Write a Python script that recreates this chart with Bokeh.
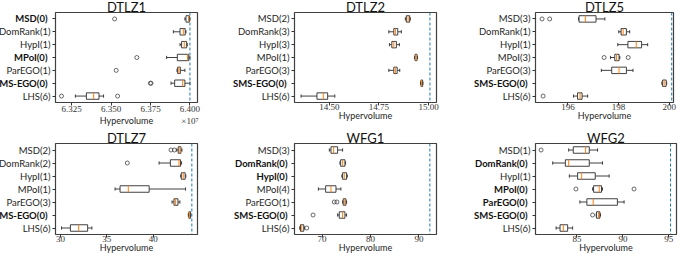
import glob
import math
from bokeh.plotting import figure
from bokeh.models import (FixedTicker, Span, Range1d, PrintfTickFormatter, ColumnDataSource,
                          LinearAxis, Title)
from bokeh.layouts import row, column
from bokeh.embed import file_html
from bokeh.resources import INLINE

METHODS = ["MSD", "DomRank", "HypI", "MPoI", "ParEGO", "SMS-EGO", "LHS"]

# ---------------- DTLZ1 (values x 1e7) ----------------
DTLZ1_COUNTS = [0, 1, 1, 0, 1, 0, 6]
DTLZ1_LO  = [6.3968, 6.3895, 6.3937, 6.3852, 6.3918, 6.3880, 6.3273]
DTLZ1_Q1  = [6.3975, 6.3937, 6.3947, 6.3920, 6.3922, 6.3903, 6.3343]
DTLZ1_MED = [6.3991, 6.3958, 6.3964, 6.3985, 6.3930, 6.3954, 6.3389]
DTLZ1_Q3  = [6.3996, 6.3970, 6.3979, 6.3992, 6.3939, 6.3968, 6.3423]
DTLZ1_HI  = [6.4000, 6.3975, 6.3983, 6.4000, 6.3968, 6.4000, 6.3452]
DTLZ1_OUT_M = [0, 3, 4, 5, 5, 6, 6]
DTLZ1_OUT_X = [6.3522, 6.3663, 6.3532, 6.3749, 6.3753, 6.3185, 6.3541]
DTLZ1_REF = 6.400
DTLZ1_XLIM = (6.3147, 6.4048)
DTLZ1_TICKS = [6.325, 6.350, 6.375, 6.400]
DTLZ1_SCALE = "×10⁷"

# ---------------- DTLZ2 ----------------
DTLZ2_COUNTS = [2, 3, 3, 1, 3, 0, 6]
DTLZ2_LO  = [14.883, 14.800, 14.803, 14.930, 14.800, 14.960, 14.358]
DTLZ2_Q1  = [14.888, 14.825, 14.815, 14.932, 14.825, 14.962, 14.438]
DTLZ2_MED = [14.897, 14.833, 14.825, 14.937, 14.833, 14.965, 14.470]
DTLZ2_Q3  = [14.905, 14.845, 14.838, 14.942, 14.842, 14.970, 14.492]
DTLZ2_HI  = [14.908, 14.863, 14.853, 14.944, 14.855, 14.972, 14.528]
DTLZ2_OUT_M = []
DTLZ2_OUT_X = []
DTLZ2_REF = 15.007
DTLZ2_XLIM = (14.325, 15.040)
DTLZ2_TICKS = [14.50, 14.75, 15.00]

# ---------------- DTLZ5 ----------------
DTLZ5_COUNTS = [3, 1, 1, 3, 3, 0, 6]
DTLZ5_LO  = [196.42, 198.01, 197.97, 197.68, 197.32, 199.71, 196.22]
DTLZ5_Q1  = [196.44, 198.10, 198.37, 197.85, 197.73, 199.74, 196.38]
DTLZ5_MED = [196.69, 198.18, 198.70, 197.92, 198.02, 199.80, 196.48]
DTLZ5_Q3  = [197.11, 198.31, 198.91, 198.02, 198.31, 199.88, 196.56]
DTLZ5_HI  = [197.46, 198.44, 199.15, 198.05, 198.57, 199.90, 196.78]
DTLZ5_OUT_M = [0, 0, 3, 3, 6]
DTLZ5_OUT_X = [194.98, 195.28, 197.43, 198.38, 195.02]
DTLZ5_REF = 200.10
DTLZ5_XLIM = (194.72, 200.17)
DTLZ5_TICKS = [196, 198, 200]

# ---------------- DTLZ7 ----------------
DTLZ7_COUNTS = [2, 2, 1, 1, 3, 0, 6]
DTLZ7_LO  = [42.54, 40.64, 42.98, 35.89, 42.04, 43.80, 30.11]
DTLZ7_Q1  = [42.71, 41.86, 43.04, 36.43, 42.25, 43.86, 31.07]
DTLZ7_MED = [42.89, 42.79, 43.25, 37.32, 42.43, 43.93, 31.96]
DTLZ7_Q3  = [43.00, 42.96, 43.46, 39.57, 42.68, 44.04, 32.93]
DTLZ7_HI  = [43.11, 43.07, 43.53, 43.50, 42.89, 44.08, 33.39]
DTLZ7_OUT_M = [0, 0, 1]
DTLZ7_OUT_X = [41.93, 42.29, 37.21]
DTLZ7_REF = 44.18
DTLZ7_XLIM = (29.46, 44.79)
DTLZ7_TICKS = [30, 35, 40]

# ---------------- WFG1 ----------------
WFG1_COUNTS = [3, 0, 0, 4, 1, 0, 6]
WFG1_LO  = [71.51, 73.70, 74.10, 69.25, 74.25, 73.22, 65.40]
WFG1_Q1  = [71.85, 73.84, 74.25, 70.75, 74.38, 73.56, 65.55]
WFG1_MED = [72.40, 74.25, 74.59, 71.85, 74.59, 74.25, 65.82]
WFG1_Q3  = [73.22, 74.73, 75.07, 72.88, 74.93, 74.73, 66.23]
WFG1_HI  = [74.25, 74.86, 75.21, 73.90, 75.07, 75.07, 66.37]
WFG1_OUT_M = [4, 4, 5, 6]
WFG1_OUT_X = [72.53, 73.08, 68.15, 66.85]
WFG1_REF = 92.26
WFG1_XLIM = (64.32, 93.63)
WFG1_TICKS = [70, 80, 90]

# ---------------- WFG2 ----------------
WFG2_COUNTS = [1, 0, 1, 0, 0, 0, 6]
WFG2_LO  = [84.10, 82.36, 84.17, 86.70, 85.32, 87.09, 82.73]
WFG2_Q1  = [84.60, 83.74, 85.07, 86.81, 86.08, 87.13, 83.16]
WFG2_MED = [85.94, 84.10, 85.51, 87.42, 86.77, 87.35, 83.52]
WFG2_Q3  = [86.34, 86.34, 86.99, 87.67, 89.40, 87.49, 83.99]
WFG2_HI  = [87.24, 87.78, 88.50, 87.78, 90.13, 87.56, 84.53]
WFG2_OUT_M = [0, 3, 3, 5]
WFG2_OUT_X = [81.10, 84.89, 91.21, 86.70]
WFG2_REF = 95.18
WFG2_XLIM = (80.49, 95.83)
WFG2_TICKS = [85, 90, 95]

LINE = "#2b2b2b"
MEDIAN = "#ff7f0e"
REFC = "#1f77b4"
SANS = "Lato"
SERIF = "Liberation Serif"
YFS = 9.5          # y tick label font size (px)
TICK_OUT = 3
STANDOFF = 2
XL_STANDOFF = -2   # x tick label standoff
AL_STANDOFF = -3   # axis label standoff
LINE_STEP = 11     # extra line under the last DTLZ1 tick label

# ---- text width measurement (to line up the bold label axis) ----
_LATO = None
for pat in ["/usr/share/fonts/**/Lato-Regular.ttf", "/usr/local/share/fonts/**/Lato-Regular.ttf",
            "/usr/share/fonts/**/Lato-Reg*.ttf"]:
    hits = glob.glob(pat, recursive=True)
    if hits:
        _LATO = hits[0]
        break


def text_width(s, size):
    try:
        from PIL import ImageFont
        f = ImageFont.truetype(_LATO, 200)
        return f.getlength(s) * size / 200.0
    except Exception:
        return len(s) * 0.53 * size


def style_axis(ax):
    ax.major_tick_out = TICK_OUT
    ax.major_tick_in = 0
    ax.minor_tick_out = 0
    ax.minor_tick_in = 0
    ax.axis_line_color = None
    ax.major_tick_line_color = "#333333"


def make_panel(name, counts, lo, q1, med, q3, hi, out_m, out_x, ref, xlim, ticks, fmt,
               bl, br, bt, bb, fw, fh, scale=None):
    p = figure(width=bl + fw + br, height=bt + fh + bb, title=None, output_backend="svg",
               toolbar_location=None, x_range=Range1d(*xlim), y_range=Range1d(-0.5, 6.5),
               min_border_left=bl, min_border_right=br, min_border_top=bt,
               min_border_bottom=bb)
    p.add_layout(Title(text=name, align="center", text_font=SANS, text_font_size="13px",
                       text_font_style="normal", text_color="#111111", standoff=-4), "above")
    p.background_fill_color = "white"
    p.border_fill_color = None
    p.outline_line_color = "#404040"
    p.outline_line_width = 1.2
    p.grid.visible = False

    ypos = [6 - i for i in range(len(METHODS))]
    src = ColumnDataSource(dict(
        y=ypos, lo=lo, q1=q1, med=med, q3=q3, hi=hi,
        b0=[y - 0.25 for y in ypos], b1=[y + 0.25 for y in ypos],
        c0=[y - 0.125 for y in ypos], c1=[y + 0.125 for y in ypos]))
    p.segment(x0="lo", y0="y", x1="q1", y1="y", source=src, line_color=LINE, line_width=0.9)
    p.segment(x0="q3", y0="y", x1="hi", y1="y", source=src, line_color=LINE, line_width=0.9)
    p.segment(x0="lo", y0="c0", x1="lo", y1="c1", source=src, line_color=LINE, line_width=0.9)
    p.segment(x0="hi", y0="c0", x1="hi", y1="c1", source=src, line_color=LINE, line_width=0.9)
    p.hbar(y="y", left="q1", right="q3", height=0.5, source=src,
           fill_color="white", line_color=LINE, line_width=0.9)
    p.segment(x0="med", y0="b0", x1="med", y1="b1", source=src, line_color=MEDIAN, line_width=1.0)
    if out_x:
        p.scatter(x=out_x, y=[6 - m for m in out_m], marker="circle", size=4,
                  fill_color=None, line_color="#444444", line_width=0.8)
    p.add_layout(Span(location=ref, dimension="height", line_color=REFC,
                      line_dash="3 2", line_width=1))

    # x axis
    xa = p.xaxis[0]
    xa.ticker = FixedTicker(ticks=ticks)
    xa.formatter = PrintfTickFormatter(format=fmt)
    xa.major_label_text_font = SERIF
    xa.major_label_text_font_size = "9px"
    xa.major_label_text_color = "#333333"
    xa.major_label_standoff = XL_STANDOFF
    xa.axis_label = "Hypervolume"
    xa.axis_label_text_font = SANS
    xa.axis_label_text_font_size = "9px"
    xa.axis_label_text_font_style = "normal"
    xa.axis_label_text_color = "#222222"
    xa.axis_label_standoff = AL_STANDOFF
    if scale:
        xa.major_label_overrides = {ticks[-1]: (fmt % ticks[-1]) + "\n" + scale}
        xa.axis_label_standoff = AL_STANDOFF - LINE_STEP
    style_axis(xa)

    # y axis: regular labels
    normal = {ypos[i]: f"{METHODS[i]}({c})" for i, c in enumerate(counts) if c > 0}
    ya = p.yaxis[0]
    ya.ticker = FixedTicker(ticks=ypos)
    ya.major_label_overrides = {y: normal.get(y, "") for y in ypos}
    ya.major_label_text_font = SANS
    ya.major_label_text_font_size = f"{YFS}px"
    ya.major_label_text_color = "#262626"
    ya.major_label_standoff = STANDOFF
    style_axis(ya)

    # second left axis with bold labels (methods with zero count), pulled onto the same column
    bold = {ypos[i]: f"{METHODS[i]}({c})" for i, c in enumerate(counts) if c == 0}
    if bold:
        wa = math.ceil(TICK_OUT + STANDOFF + max(text_width(t, YFS) for t in normal.values()))
        yb = LinearAxis(ticker=FixedTicker(ticks=list(bold.keys())),
                        major_label_overrides=bold)
        yb.major_label_text_font = SANS
        yb.major_label_text_font_size = f"{YFS}px"
        yb.major_label_text_font_style = "bold"
        yb.major_label_text_color = "#111111"
        style_axis(yb)
        yb.major_tick_out = 0
        yb.major_tick_line_color = None
        yb.major_label_standoff = TICK_OUT + STANDOFF - wa
        p.add_layout(yb, "left")
    return p


BL, BT = 80, 30
p1 = make_panel("DTLZ1", DTLZ1_COUNTS, DTLZ1_LO, DTLZ1_Q1, DTLZ1_MED, DTLZ1_Q3, DTLZ1_HI,
                DTLZ1_OUT_M, DTLZ1_OUT_X, DTLZ1_REF, DTLZ1_XLIM, DTLZ1_TICKS, "%.3f",
                BL, 8, BT, 34, 142, 90, scale=DTLZ1_SCALE)
p2 = make_panel("DTLZ2", DTLZ2_COUNTS, DTLZ2_LO, DTLZ2_Q1, DTLZ2_MED, DTLZ2_Q3, DTLZ2_HI,
                DTLZ2_OUT_M, DTLZ2_OUT_X, DTLZ2_REF, DTLZ2_XLIM, DTLZ2_TICKS, "%.2f",
                BL, 8, BT, 34, 142, 90)
p3 = make_panel("DTLZ5", DTLZ5_COUNTS, DTLZ5_LO, DTLZ5_Q1, DTLZ5_MED, DTLZ5_Q3, DTLZ5_HI,
                DTLZ5_OUT_M, DTLZ5_OUT_X, DTLZ5_REF, DTLZ5_XLIM, DTLZ5_TICKS, "%d",
                BL, 11, BT, 34, 138, 90)
p4 = make_panel("DTLZ7", DTLZ7_COUNTS, DTLZ7_LO, DTLZ7_Q1, DTLZ7_MED, DTLZ7_Q3, DTLZ7_HI,
                DTLZ7_OUT_M, DTLZ7_OUT_X, DTLZ7_REF, DTLZ7_XLIM, DTLZ7_TICKS, "%d",
                BL, 8, BT, 24, 142, 91)
p5 = make_panel("WFG1", WFG1_COUNTS, WFG1_LO, WFG1_Q1, WFG1_MED, WFG1_Q3, WFG1_HI,
                WFG1_OUT_M, WFG1_OUT_X, WFG1_REF, WFG1_XLIM, WFG1_TICKS, "%d",
                BL, 8, BT, 24, 142, 91)
p6 = make_panel("WFG2", WFG2_COUNTS, WFG2_LO, WFG2_Q1, WFG2_MED, WFG2_Q3, WFG2_HI,
                WFG2_OUT_M, WFG2_OUT_X, WFG2_REF, WFG2_XLIM, WFG2_TICKS, "%d",
                BL, 8, BT, 24, 141, 91)

# place frames: column lefts 55 / 294 / 535, row tops 12 / 143 (window pixels)
for p in (p2, p5):
    p.margin = (0, 0, 0, 9)
for p in (p3, p6):
    p.margin = (0, 0, 0, 11)
r1 = row(p1, p2, p3)
r2 = row(p4, p5, p6, margin=(-23, 0, 0, 0))
layout = column(r1, r2, margin=(-18, 0, 0, -25))

with open("out.html", "w") as f:
    f.write(file_html(layout, INLINE))
